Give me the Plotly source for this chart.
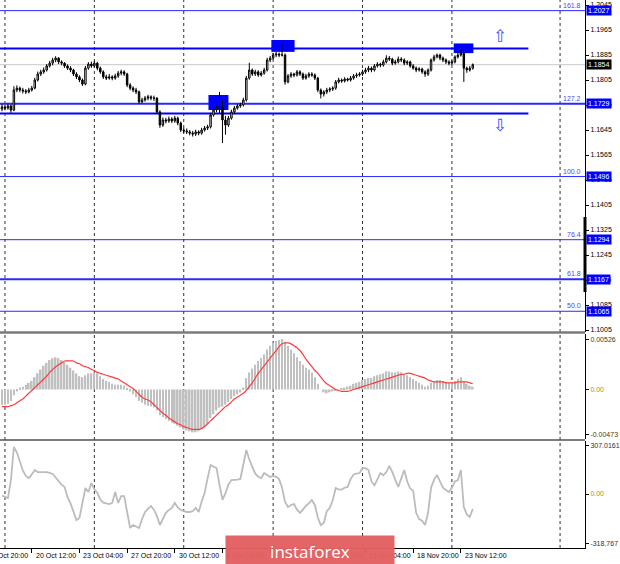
import plotly.graph_objects as go

# ---------------- data ----------------
BAR_INDEX = list(range(-1, 158))   # H4 bars, index 0 = Mon 19 Oct 00:00

OPEN = [
    1.1712, 1.1719, 1.1715, 1.1722, 1.1709, 1.1773, 1.1779, 1.1773, 1.1770, 1.1767,
    1.1773, 1.1779, 1.1805, 1.1824, 1.1831, 1.1837, 1.1850, 1.1859, 1.1869, 1.1875,
    1.1863, 1.1859, 1.1850, 1.1843, 1.1837, 1.1824, 1.1815, 1.1805, 1.1792, 1.1843,
    1.1856, 1.1850, 1.1859, 1.1843, 1.1831, 1.1815, 1.1811, 1.1815, 1.1811, 1.1818,
    1.1827, 1.1831, 1.1824, 1.1789, 1.1779, 1.1773, 1.1767, 1.1735, 1.1741, 1.1747,
    1.1751, 1.1747, 1.1747, 1.1703, 1.1661, 1.1677, 1.1674, 1.1680, 1.1674, 1.1683,
    1.1667, 1.1645, 1.1642, 1.1639, 1.1635, 1.1632, 1.1639, 1.1635, 1.1645, 1.1651,
    1.1655, 1.1693, 1.1709, 1.1715, 1.1719, 1.1677, 1.1661, 1.1683, 1.1703, 1.1715,
    1.1722, 1.1725, 1.1741, 1.1811, 1.1837, 1.1824, 1.1831, 1.1821, 1.1827, 1.1837,
    1.1869, 1.1875, 1.1885, 1.1888, 1.1885, 1.1885, 1.1799, 1.1818, 1.1824, 1.1821,
    1.1831, 1.1824, 1.1811, 1.1818, 1.1824, 1.1821, 1.1811, 1.1773, 1.1760, 1.1767,
    1.1773, 1.1776, 1.1779, 1.1799, 1.1805, 1.1802, 1.1808, 1.1805, 1.1811, 1.1818,
    1.1821, 1.1824, 1.1831, 1.1837, 1.1843, 1.1837, 1.1850, 1.1856, 1.1853, 1.1863,
    1.1875, 1.1872, 1.1859, 1.1863, 1.1872, 1.1869, 1.1859, 1.1863, 1.1850, 1.1843,
    1.1837, 1.1840, 1.1831, 1.1824, 1.1837, 1.1869, 1.1879, 1.1885, 1.1875, 1.1869,
    1.1863, 1.1859, 1.1863, 1.1879, 1.1885, 1.1891, 1.1843, 1.1837, 1.1843,
]
HIGH = [
    1.1728, 1.1726, 1.1730, 1.1727, 1.1785, 1.1788, 1.1784, 1.1780, 1.1776, 1.1780,
    1.1786, 1.1812, 1.1832, 1.1838, 1.1845, 1.1856, 1.1866, 1.1876, 1.1881, 1.1878,
    1.1868, 1.1862, 1.1855, 1.1849, 1.1841, 1.1830, 1.1820, 1.1810, 1.1850, 1.1862,
    1.1864, 1.1866, 1.1863, 1.1848, 1.1836, 1.1822, 1.1824, 1.1820, 1.1825, 1.1834,
    1.1838, 1.1836, 1.1828, 1.1795, 1.1785, 1.1780, 1.1771, 1.1748, 1.1754, 1.1758,
    1.1756, 1.1755, 1.1750, 1.1708, 1.1685, 1.1684, 1.1688, 1.1686, 1.1690, 1.1688,
    1.1672, 1.1652, 1.1650, 1.1645, 1.1642, 1.1646, 1.1644, 1.1652, 1.1658, 1.1662,
    1.1700, 1.1716, 1.1722, 1.1767, 1.1740, 1.1690, 1.1690, 1.1710, 1.1722, 1.1728,
    1.1732, 1.1748, 1.1818, 1.1860, 1.1842, 1.1838, 1.1836, 1.1834, 1.1844, 1.1876,
    1.1882, 1.1892, 1.1895, 1.1893, 1.1920, 1.1890, 1.1824, 1.1830, 1.1828, 1.1837,
    1.1836, 1.1829, 1.1825, 1.1830, 1.1830, 1.1826, 1.1815, 1.1778, 1.1772, 1.1780,
    1.1782, 1.1785, 1.1805, 1.1812, 1.1810, 1.1814, 1.1812, 1.1818, 1.1824, 1.1828,
    1.1830, 1.1838, 1.1844, 1.1850, 1.1848, 1.1856, 1.1862, 1.1860, 1.1870, 1.1884,
    1.1882, 1.1876, 1.1870, 1.1880, 1.1878, 1.1874, 1.1868, 1.1867, 1.1856, 1.1848,
    1.1846, 1.1844, 1.1836, 1.1842, 1.1874, 1.1886, 1.1890, 1.1889, 1.1880, 1.1874,
    1.1868, 1.1868, 1.1884, 1.1892, 1.1905, 1.1895, 1.1848, 1.1850, 1.1858,
]
LOW = [
    1.1705, 1.1708, 1.1710, 1.1700, 1.1705, 1.1766, 1.1766, 1.1762, 1.1760, 1.1762,
    1.1768, 1.1775, 1.1800, 1.1818, 1.1825, 1.1832, 1.1845, 1.1852, 1.1862, 1.1856,
    1.1852, 1.1844, 1.1837, 1.1830, 1.1818, 1.1808, 1.1798, 1.1786, 1.1788, 1.1838,
    1.1844, 1.1845, 1.1836, 1.1825, 1.1808, 1.1805, 1.1806, 1.1804, 1.1806, 1.1812,
    1.1820, 1.1818, 1.1782, 1.1772, 1.1766, 1.1760, 1.1728, 1.1730, 1.1736, 1.1740,
    1.1740, 1.1738, 1.1696, 1.1652, 1.1655, 1.1666, 1.1668, 1.1667, 1.1668, 1.1660,
    1.1638, 1.1635, 1.1632, 1.1628, 1.1624, 1.1626, 1.1628, 1.1630, 1.1640, 1.1645,
    1.1650, 1.1688, 1.1702, 1.1700, 1.1603, 1.1630, 1.1655, 1.1678, 1.1696, 1.1710,
    1.1716, 1.1720, 1.1736, 1.1806, 1.1818, 1.1818, 1.1815, 1.1816, 1.1822, 1.1832,
    1.1862, 1.1870, 1.1878, 1.1878, 1.1880, 1.1790, 1.1794, 1.1812, 1.1814, 1.1816,
    1.1818, 1.1805, 1.1806, 1.1812, 1.1815, 1.1805, 1.1766, 1.1746, 1.1752, 1.1760,
    1.1766, 1.1770, 1.1774, 1.1794, 1.1796, 1.1797, 1.1800, 1.1800, 1.1806, 1.1812,
    1.1816, 1.1818, 1.1825, 1.1830, 1.1830, 1.1832, 1.1845, 1.1846, 1.1848, 1.1858,
    1.1866, 1.1852, 1.1854, 1.1858, 1.1862, 1.1852, 1.1853, 1.1844, 1.1838, 1.1830,
    1.1832, 1.1825, 1.1815, 1.1818, 1.1832, 1.1864, 1.1874, 1.1868, 1.1862, 1.1856,
    1.1852, 1.1852, 1.1858, 1.1874, 1.1880, 1.1799, 1.1828, 1.1832, 1.1838,
]
CLOSE = [
    1.1719, 1.1715, 1.1722, 1.1709, 1.1773, 1.1779, 1.1773, 1.1770, 1.1767, 1.1773,
    1.1779, 1.1805, 1.1824, 1.1831, 1.1837, 1.1850, 1.1859, 1.1869, 1.1875, 1.1863,
    1.1859, 1.1850, 1.1843, 1.1837, 1.1824, 1.1815, 1.1805, 1.1792, 1.1843, 1.1856,
    1.1850, 1.1859, 1.1843, 1.1831, 1.1815, 1.1811, 1.1815, 1.1811, 1.1818, 1.1827,
    1.1831, 1.1824, 1.1789, 1.1779, 1.1773, 1.1767, 1.1735, 1.1741, 1.1747, 1.1751,
    1.1747, 1.1747, 1.1703, 1.1661, 1.1677, 1.1674, 1.1680, 1.1674, 1.1683, 1.1667,
    1.1645, 1.1642, 1.1639, 1.1635, 1.1632, 1.1639, 1.1635, 1.1645, 1.1651, 1.1655,
    1.1693, 1.1709, 1.1715, 1.1719, 1.1677, 1.1661, 1.1683, 1.1703, 1.1715, 1.1722,
    1.1725, 1.1741, 1.1811, 1.1837, 1.1824, 1.1831, 1.1821, 1.1827, 1.1837, 1.1869,
    1.1875, 1.1885, 1.1888, 1.1885, 1.1885, 1.1799, 1.1818, 1.1824, 1.1821, 1.1831,
    1.1824, 1.1811, 1.1818, 1.1824, 1.1821, 1.1811, 1.1773, 1.1760, 1.1767, 1.1773,
    1.1776, 1.1779, 1.1799, 1.1805, 1.1802, 1.1808, 1.1805, 1.1811, 1.1818, 1.1821,
    1.1824, 1.1831, 1.1837, 1.1843, 1.1837, 1.1850, 1.1856, 1.1853, 1.1863, 1.1875,
    1.1872, 1.1859, 1.1863, 1.1872, 1.1869, 1.1859, 1.1863, 1.1850, 1.1843, 1.1837,
    1.1840, 1.1831, 1.1824, 1.1837, 1.1869, 1.1879, 1.1885, 1.1875, 1.1869, 1.1863,
    1.1859, 1.1863, 1.1879, 1.1885, 1.1891, 1.1843, 1.1837, 1.1843, 1.1854,
]
MACD_HIST = [
    -0.0016, -0.0016, -0.0015, -0.0012, -0.0006, -0.0002, 0.0002, 0.0003, 0.0005, 0.0007,
    0.0009, 0.0013, 0.0017, 0.0021, 0.0025, 0.0028, 0.0031, 0.0033, 0.0034, 0.0033,
    0.0031, 0.0029, 0.0026, 0.0023, 0.0020, 0.0017, 0.0014, 0.0013, 0.0015, 0.0017,
    0.0017, 0.0018, 0.0017, 0.0014, 0.0011, 0.0009, 0.0008, 0.0006, 0.0005, 0.0005,
    0.0005, 0.0004, 0.0001, -0.0002, -0.0005, -0.0008, -0.0012, -0.0014, -0.0016, -0.0017,
    -0.0018, -0.0019, -0.0022, -0.0027, -0.0029, -0.0031, -0.0033, -0.0035, -0.0036, -0.0038,
    -0.0040, -0.0042, -0.0043, -0.0044, -0.0045, -0.0045, -0.0044, -0.0042, -0.0040, -0.0036,
    -0.0030, -0.0026, -0.0022, -0.0019, -0.0018, -0.0016, -0.0013, -0.0010, -0.0007, -0.0005,
    -0.0003, 0.0002, 0.0012, 0.0018, 0.0022, 0.0026, 0.0030, 0.0033, 0.0037, 0.0042,
    0.0046, 0.0049, 0.0051, 0.0052, 0.0053, 0.0050, 0.0046, 0.0042, 0.0038, 0.0034,
    0.0030, 0.0026, 0.0023, 0.0021, 0.0018, 0.0013, 0.0006, 0.0000, -0.0003, -0.0004,
    -0.0003, -0.0002, -0.0001, 0.0000, 0.0001, 0.0002, 0.0003, 0.0004, 0.0006, 0.0007,
    0.0008, 0.0010, 0.0011, 0.0012, 0.0012, 0.0014, 0.0015, 0.0016, 0.0017, 0.0019,
    0.0019, 0.0018, 0.0018, 0.0019, 0.0018, 0.0016, 0.0015, 0.0013, 0.0011, 0.0009,
    0.0007, 0.0005, 0.0003, 0.0004, 0.0007, 0.0009, 0.0010, 0.0010, 0.0009, 0.0008,
    0.0007, 0.0007, 0.0009, 0.0011, 0.0013, 0.0009, 0.0006, 0.0004, 0.0003,
]
MACD_SIGNAL = [
    -0.0018, -0.0018, -0.0018, -0.0017, -0.0016, -0.0014, -0.0012, -0.0010, -0.0007, -0.0004,
    -0.0001, 0.0002, 0.0005, 0.0008, 0.0011, 0.0014, 0.0018, 0.0021, 0.0024, 0.0026,
    0.0028, 0.0030, 0.0030, 0.0030, 0.0030, 0.0028, 0.0027, 0.0025, 0.0024, 0.0023,
    0.0021, 0.0020, 0.0018, 0.0017, 0.0016, 0.0015, 0.0014, 0.0013, 0.0012, 0.0011,
    0.0009, 0.0007, 0.0005, 0.0003, 0.0001, -0.0002, -0.0005, -0.0008, -0.0010, -0.0011,
    -0.0013, -0.0016, -0.0019, -0.0022, -0.0025, -0.0027, -0.0030, -0.0032, -0.0034, -0.0036,
    -0.0037, -0.0039, -0.0040, -0.0041, -0.0042, -0.0042, -0.0042, -0.0041, -0.0039, -0.0036,
    -0.0033, -0.0030, -0.0027, -0.0024, -0.0021, -0.0018, -0.0016, -0.0013, -0.0010, -0.0008,
    -0.0006, -0.0004, -0.0001, 0.0003, 0.0007, 0.0012, 0.0017, 0.0021, 0.0025, 0.0029,
    0.0033, 0.0037, 0.0041, 0.0045, 0.0048, 0.0049, 0.0049, 0.0048, 0.0046, 0.0044,
    0.0041, 0.0037, 0.0032, 0.0028, 0.0024, 0.0020, 0.0017, 0.0013, 0.0009, 0.0006,
    0.0004, 0.0002, 0.0000, -0.0001, -0.0002, -0.0002, -0.0002, -0.0001, 0.0000, 0.0001,
    0.0002, 0.0003, 0.0004, 0.0005, 0.0006, 0.0007, 0.0008, 0.0009, 0.0010, 0.0011,
    0.0012, 0.0013, 0.0014, 0.0015, 0.0016, 0.0016, 0.0017, 0.0017, 0.0016, 0.0015,
    0.0014, 0.0013, 0.0012, 0.0010, 0.0009, 0.0008, 0.0008, 0.0008, 0.0008, 0.0007,
    0.0007, 0.0007, 0.0007, 0.0008, 0.0008, 0.0008, 0.0008, 0.0007, 0.0006,
]
CCI = [
    -10, -19, -26, 90, 300, 265, 204, 150, 115, 102,
    125, 153, 140, 140, 140, 140, 135, 128, 105, 80,
    60, 45, -20, -60, -120, -166, -153, -60, 38, 13,
    70, 30, 6, -35, -55, -60, -64, -57, 13, -57,
    -13, -13, -120, -217, -198, -205, -217, -160, -115, -95,
    -77, -100, -140, -198, -160, -120, -102, -89, -57, -85,
    -102, -110, -115, -115, -110, -89, -115, -50, 6, 100,
    185, 175, 166, 60, -38, 6, 60, 89, 89, 92,
    96, 180, 281, 220, 170, 130, 110, 102, 134, 120,
    109, 115, 110, 95, 40, -50, -83, -70, -64, -100,
    -121, -100, -75, -60, -38, -70, -150, -198, -185, -110,
    -89, -40, 38, 30, 28, 40, 45, 95, 125, 130,
    134, 165, 165, 153, 80, 55, 100, 134, 120, 140,
    179, 140, 90, 45, 100, 153, 80, 35, 20, -120,
    -160, -170, -198, -120, 40, 90, 121, 75, 40, 25,
    13, 40, 80, 89, 153, -83, -130, -147, -95,
]

FIB_LABELS = ["161.8", "127.2", "100.0", "76.4", "61.8", "50.0"]
FIB_PRICES = [1.2027, 1.1729, 1.1496, 1.1294, 1.1167, 1.1065]
RESIST_PRICES = [1.1906, 1.1698]
LAST_PRICE = 1.1854
ZONES = [  # (first bar, last bar, low, high)
    (68.3, 75.0, 1.1709, 1.1757),
    (89.4, 97.2, 1.1895, 1.1933),
    (150.6, 157.2, 1.1891, 1.1922),
]
PRICE_TICKS = [1.2045, 1.1965, 1.1885, 1.1805, 1.1725, 1.1645, 1.1565, 1.1485,
               1.1405, 1.1325, 1.1245, 1.1165, 1.1085, 1.1005]
MACD_TICKS = [0.00526, 0.0, -0.00473]
MACD_TICKTEXT = ["0.00526", "0.00", "-0.00473"]
CCI_TICKS = [307.0161, 0.0, -318.767]
CCI_TICKTEXT = ["307.0161", "0.00", "-318.767"]
TIME_TICK_BARS = [-7, 9, 25, 41, 57, 73, 89, 105, 121, 137, 153]
TIME_TICK_LABELS = ["15 Oct 20:00", "20 Oct 12:00", "23 Oct 04:00", "27 Oct 20:00",
                    "30 Oct 12:00", "4 Nov 04:00", "6 Nov 20:00", "11 Nov 12:00",
                    "16 Nov 04:00", "18 Nov 20:00", "23 Nov 12:00"]
WEEK_SEPARATOR_BARS = [0, 30, 60, 90, 120, 150, 186.3]

# ---------------- geometry ----------------
W, H = 620, 564
MR, MB = 31, 16
PW, PH = W - MR, H - MB          # plot area 589 x 548
X0_PX, BAR_PX = 5, 3


def idx(px):
    return (px - X0_PX) / BAR_PX


def py(p):  # pixel row -> paper y
    return 1 - p / PH


def zero_style(labels):
    return [f"<span style='color:#b09000'>{t}</span>" if t == "0.00" else t for t in labels]


X_RANGE = [idx(0), idx(PW)]
FONT = "Liberation Sans"
BLUE = "#0000ff"

fig = go.Figure()
fig.add_trace(go.Candlestick(
    x=BAR_INDEX, open=OPEN, high=HIGH, low=LOW, close=CLOSE,
    xaxis="x", yaxis="y", whiskerwidth=0,
    increasing=dict(line=dict(color="#000000", width=1), fillcolor="#ffffff"),
    decreasing=dict(line=dict(color="#000000", width=1), fillcolor="#000000"),
    showlegend=False, hoverinfo="skip"))
fig.add_trace(go.Bar(x=BAR_INDEX, y=MACD_HIST, xaxis="x", yaxis="y2", width=0.55,
                     marker=dict(color="#c0c0c0", line=dict(width=0)),
                     showlegend=False, hoverinfo="skip"))
fig.add_trace(go.Scatter(x=BAR_INDEX, y=MACD_SIGNAL, xaxis="x", yaxis="y2", mode="lines",
                         line=dict(color="#ff3b3b", width=1.2, shape="spline"),
                         showlegend=False, hoverinfo="skip"))
fig.add_trace(go.Scatter(x=BAR_INDEX, y=CCI, xaxis="x", yaxis="y3", mode="lines",
                         line=dict(color="#bcbcbc", width=1.8),
                         showlegend=False, hoverinfo="skip"))

shapes = []
# week separators
for b in WEEK_SEPARATOR_BARS:
    shapes.append(dict(type="line", xref="x", yref="paper", x0=b, x1=b, y0=0, y1=1,
                       line=dict(color="#303030", width=1, dash="dot"), layer="below"))
# zones
for x0, x1, lo, hi in ZONES:
    shapes.append(dict(type="rect", xref="x", yref="y", x0=x0, x1=x1, y0=lo, y1=hi,
                       fillcolor=BLUE, line=dict(width=0), layer="below"))
# last price line
shapes.append(dict(type="line", xref="paper", yref="y", x0=0, x1=1, y0=LAST_PRICE, y1=LAST_PRICE,
                   line=dict(color="#c8c8c8", width=1), layer="below"))
# fib lines
for lab, p in zip(FIB_LABELS, FIB_PRICES):
    wdt = 2 if lab in ("127.2", "61.8") else 1
    shapes.append(dict(type="line", xref="paper", yref="y", x0=0, x1=1, y0=p, y1=p,
                       line=dict(color="#2a2aff", width=wdt), layer="below"))
# resistance / support lines
for p in RESIST_PRICES:
    shapes.append(dict(type="line", xref="x", yref="y", x0=X_RANGE[0], x1=idx(532), y0=p, y1=p,
                       line=dict(color=BLUE, width=2), layer="below"))
# panel separators
shapes.append(dict(type="line", xref="paper", yref="paper", x0=0, x1=1, y0=py(332.5), y1=py(332.5),
                   line=dict(color="#7a7a7a", width=2.5)))
shapes.append(dict(type="line", xref="paper", yref="paper", x0=0, x1=1, y0=py(440), y1=py(440),
                   line=dict(color="#505050", width=1.5)))
# black scroll mark on the price axis
shapes.append(dict(type="rect", xref="paper", yref="paper", x0=(PW - 1.5) / PW, x1=(PW + 1.5) / PW,
                   y0=py(292), y1=py(217), fillcolor="#000000", line=dict(width=0)))

ann = []
# time labels (MT4 style: left aligned after tick)
for b, t in zip(TIME_TICK_BARS, TIME_TICK_LABELS):
    xp = (X0_PX + BAR_PX * b + 2) / PW
    ann.append(dict(xref="paper", yref="paper", x=xp, y=0, xanchor="left", yanchor="top",
                    yshift=-2, text=t, showarrow=False,
                    font=dict(family=FONT, size=7, color="#000000")))
# fib labels
for lab, p in zip(FIB_LABELS, FIB_PRICES):
    ann.append(dict(xref="paper", yref="y", x=1, y=p, xanchor="right", yanchor="bottom",
                    xshift=-2, yshift=0, text=lab, showarrow=False,
                    font=dict(family=FONT, size=7, color="#4848ff")))
# blue price boxes
for p in FIB_PRICES:
    ann.append(dict(xref="paper", yref="y", x=1, y=p, xanchor="left", yanchor="middle",
                    xshift=1, text=f"{p:.4f}", showarrow=False, bgcolor=BLUE, borderpad=1,
                    font=dict(family=FONT, size=7, color="#ffffff")))
ann.append(dict(xref="paper", yref="y", x=1, y=LAST_PRICE, xanchor="left", yanchor="middle",
                xshift=1, text=f"{LAST_PRICE:.4f}", showarrow=False, bgcolor="#000000", borderpad=1,
                font=dict(family=FONT, size=7, color="#ffffff")))
# arrows
ann.append(dict(xref="x", yref="y", x=idx(503), y=1.1946, text="⇧", showarrow=False,
                font=dict(family="DejaVu Sans", size=17, color="#3a55ff")))
ann.append(dict(xref="x", yref="y", x=idx(503), y=1.1661, text="⇩", showarrow=False,
                font=dict(family="DejaVu Sans", size=17, color="#3a55ff")))
# watermark
ann.append(dict(xref="paper", yref="paper", x=227 / PW, y=py(535), xanchor="left", yanchor="top",
                text="instaforex", showarrow=False, bgcolor="rgba(226,96,96,0.97)",
                width=166, height=28, align="center",
                font=dict(family="Open Sans", size=17, color="#ffffff")))

axis_common = dict(side="right", anchor="x", showgrid=False, zeroline=False,
                   showline=True, linecolor="#000000", linewidth=1,
                   ticks="outside", ticklen=3, tickcolor="#000000", tickwidth=1,
                   fixedrange=True)

fig.update_layout(
    width=W, height=H,
    margin=dict(l=0, r=MR, t=0, b=MB, pad=0),
    paper_bgcolor="#ffffff", plot_bgcolor="#ffffff",
    showlegend=False,
    xaxis=dict(domain=[0, 1], range=X_RANGE, anchor="y3", showgrid=False, zeroline=False,
               showline=True, linecolor="#000000", linewidth=1, ticks="outside", ticklen=4,
               tickcolor="#000000", tickvals=TIME_TICK_BARS[1:], showticklabels=False,
               rangeslider=dict(visible=False), fixedrange=True),
    yaxis=dict(domain=[py(332), 1], range=[1.2061 - 0.00032 * 332, 1.2061],
               tickvals=PRICE_TICKS, ticktext=[f"{v:.4f}" for v in PRICE_TICKS],
               tickfont=dict(family=FONT, size=7, color="#000000"), **axis_common),
    yaxis2=dict(domain=[py(439), py(334)], range=[-0.005205, 0.005836],
                tickvals=MACD_TICKS, ticktext=zero_style(MACD_TICKTEXT),
                tickfont=dict(family=FONT, size=7, color="#4a3c10"), **axis_common),
    yaxis3=dict(domain=[0, py(441)], range=[-344.8, 338.4],
                tickvals=CCI_TICKS, ticktext=zero_style(CCI_TICKTEXT),
                tickfont=dict(family=FONT, size=7, color="#303030"), **axis_common),
    shapes=shapes, annotations=ann,
)

fig.write_html("out.html", config={"displayModeBar": False},
               post_script="document.body.style.margin='0';document.body.style.overflow='hidden';")
